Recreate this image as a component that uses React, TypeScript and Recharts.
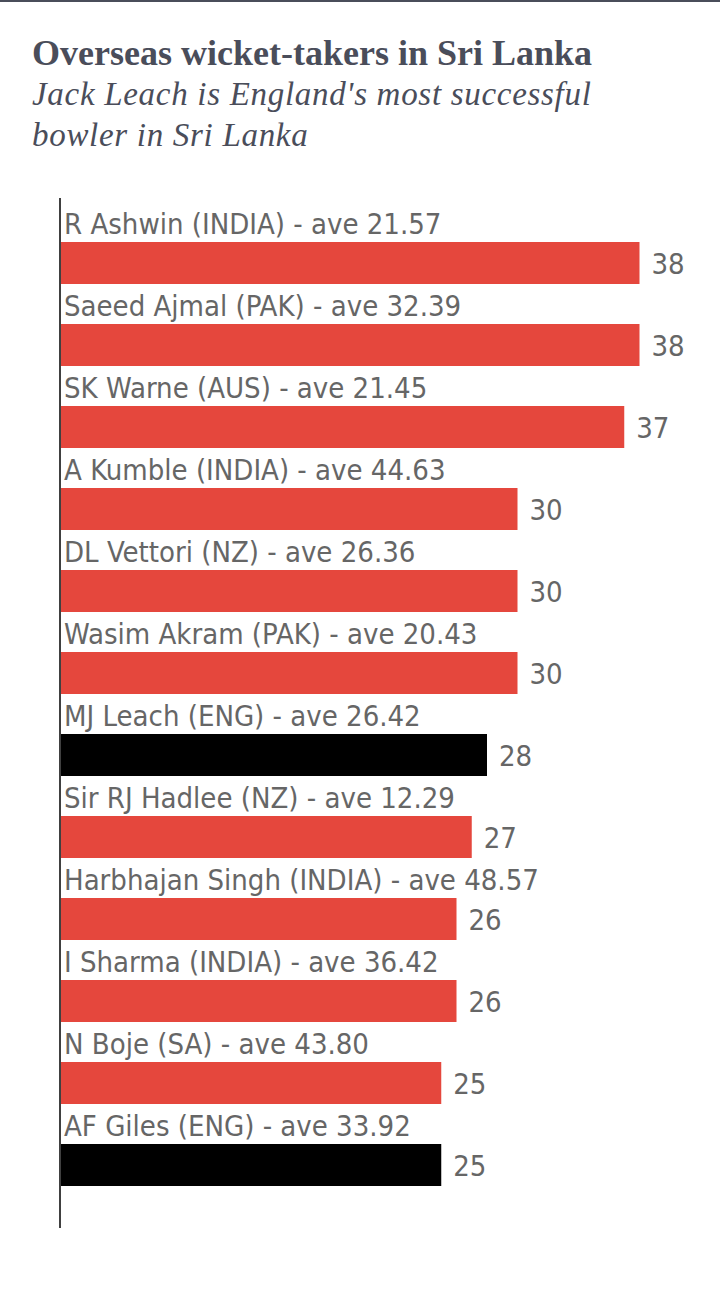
import React from "react";
import { BarChart, Bar, XAxis, YAxis, Cell, LabelList, ReferenceLine } from "recharts";

const players = [
  "R Ashwin (INDIA)",
  "Saeed Ajmal (PAK)",
  "SK Warne (AUS)",
  "A Kumble (INDIA)",
  "DL Vettori (NZ)",
  "Wasim Akram (PAK)",
  "MJ Leach (ENG)",
  "Sir RJ Hadlee (NZ)",
  "Harbhajan Singh (INDIA)",
  "I Sharma (INDIA)",
  "N Boje (SA)",
  "AF Giles (ENG)",
];
const averages = ["21.57", "32.39", "21.45", "44.63", "26.36", "20.43", "26.42", "12.29", "48.57", "36.42", "43.80", "33.92"];
const wickets = [38, 38, 37, 30, 30, 30, 28, 27, 26, 26, 25, 25];
const isEngland = [false, false, false, false, false, false, true, false, false, false, false, true];

const data = players.map((p, i) => ({
  name: `${p} - ave ${averages[i]}`,
  wickets: wickets[i],
  eng: isEngland[i],
}));

const LABEL_FONT = "'Liberation Sans Narrow', 'DejaVu Sans Condensed', 'Roboto', sans-serif";
const TEXT_COLOR = "#666666";

const NameLabel = (props: any) => {
  const { x, y, value } = props;
  return (
    <text x={x + 4} y={y - 8} fontSize={29} fill={TEXT_COLOR} fontFamily={LABEL_FONT} style={{ fontStretch: "condensed" }}>
      {value}
    </text>
  );
};

const ValueLabel = (props: any) => {
  const { x, y, width, height, value } = props;
  return (
    <text x={x + width + 12} y={y + height / 2 + 11} fontSize={29} fill={TEXT_COLOR} fontFamily={LABEL_FONT} style={{ fontStretch: "condensed" }}>
      {value}
    </text>
  );
};

export default function App() {
  return (
    <div style={{ position: "absolute", left: 0, top: 0, width: 720, height: 1292, background: "#fff" }}>
      <div style={{ position: "absolute", left: 0, top: 0, width: 720, height: 2, background: "#4a4d5a" }} />
      <div
        style={{
          position: "absolute",
          left: 32,
          top: 32.9,
          fontFamily: "'Liberation Serif', 'DejaVu Serif', serif",
          fontWeight: 700,
          fontSize: 36,
          lineHeight: "40px",
          color: "#4a4d5a",
          letterSpacing: 0,
          whiteSpace: "nowrap",
        }}
      >
        Overseas wicket-takers in Sri Lanka
      </div>
      <div
        style={{
          position: "absolute",
          left: 32,
          top: 74.4,
          width: 660,
          fontFamily: "'Liberation Serif', 'DejaVu Serif', serif",
          fontStyle: "italic",
          fontSize: 33,
          lineHeight: "41px",
          letterSpacing: 0.7,
          color: "#4a4d5a",
          whiteSpace: "nowrap",
        }}
      >
        Jack Leach is England's most successful
        <br />
        bowler in Sri Lanka
      </div>
      <div style={{ position: "absolute", left: 0, top: 0 }}>
        <BarChart
          width={720}
          height={1292}
          data={data}
          layout="vertical"
          margin={{ top: 198, right: 50, bottom: 64, left: 60 }}
        >
          <XAxis type="number" domain={[0, 40]} hide />
          <YAxis
            type="category"
            dataKey="name"
            width={0}
            tick={false}
            tickLine={false}
            axisLine={false}
            padding={{ top: 24, bottom: 22 }}
          />
          <Bar dataKey="wickets" barSize={42} isAnimationActive={false}>
            {data.map((d, i) => (
              <Cell key={i} fill={d.eng ? "#000000" : "#e5473d"} />
            ))}
            <LabelList dataKey="name" content={NameLabel} />
            <LabelList dataKey="wickets" content={ValueLabel} />
          </Bar>
          <ReferenceLine x={0} stroke="#404040" strokeWidth={2} />
        </BarChart>
      </div>
    </div>
  );
}
